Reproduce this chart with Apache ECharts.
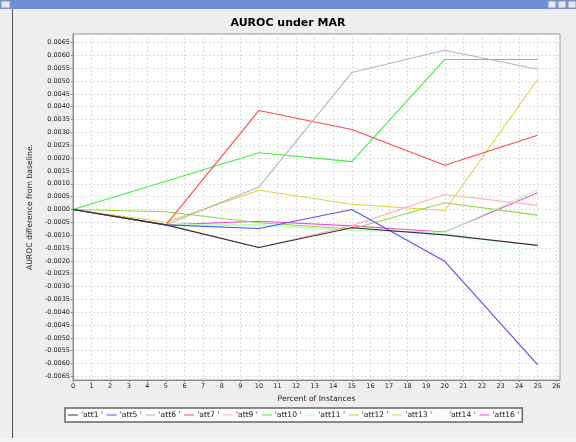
<!DOCTYPE html>
<html>
<head>
<meta charset="utf-8">
<script src="https://cdn.jsdelivr.net/npm/echarts@6/dist/echarts.min.js"></script>
<style>
  html, body { margin: 0; padding: 0; background: #eeeeee; }
  #chart { width: 576px; height: 442px; }
</style>
</head>
<body>
<div id="chart"></div>
<script>
// percent of instances with missing values
const xValues = [0, 5, 10, 15, 20, 25]

const seriesNames = ["'att1 '", "'att5 '", "'att6 '", "'att7 '", "'att9 '", "'att10 '",
  "'att11 '", "'att12 '", "'att13 '", "'att14 '", "'att16 '"]

const att1 = [0, -0.0006, -0.00148, -0.00071, -0.00099, -0.0014]
const att5 = [0, -0.0006, -0.00074, 0.0, -0.00202, -0.00605]
const att6 = [0, -0.0006, 0.00087, 0.00533, 0.0062, 0.00546]
const att7 = [0, -0.0006, 0.00385, 0.00311, 0.00172, 0.00289]
const att9 = [0, -0.0006, -0.00148, -0.00063, 0.00058, 0.00016]
const att10 = [0, 0.0011, 0.00221, 0.00186, 0.00584, 0.00584]
const att11 = [0, -0.0006, -0.0006, -0.0008, -0.0009, 0.00078]
const att12 = [0, -0.00009, -0.00052, -0.00076, 0.00026, -0.00022]
const att13 = [0, -0.0005, 0.00075, 0.0002, -0.00004, 0.00507]
const att14 = [0, -0.0006, -0.00062, -0.00082, -0.0009, -0.00186]
const att16 = [0, -0.0006, -0.00046, -0.00064, -0.00088, 0.00065]

const seriesData = [att1, att5, att6, att7, att9, att10, att11, att12, att13, att14, att16]
const seriesColors = ['#333333', '#5050ff', '#b5b5b5', '#ff4848', '#ffb0b0', '#40ee40',
  '#b0ffb0', '#90d840', '#e2d040', '#ccffff', '#ff48d8']

const xTicks = [0, 1, 2, 3, 4, 5, 6, 7, 8, 9, 10, 11, 12, 13, 14, 15, 16, 17, 18, 19, 20,
  21, 22, 23, 24, 25, 26]
const yTicks = [-0.0065, -0.006, -0.0055, -0.005, -0.0045, -0.004, -0.0035, -0.003, -0.0025,
  -0.002, -0.0015, -0.001, -0.0005, 0, 0.0005, 0.001, 0.0015, 0.002, 0.0025, 0.003, 0.0035,
  0.004, 0.0045, 0.005, 0.0055, 0.006, 0.0065]

const font = 'DejaVu Sans'

function buildSeries() {
  const list = []
  // first series on top, like the original renderer
  for (let i = seriesNames.length - 1; i >= 0; i--) {
    list.push({
      name: seriesNames[i],
      type: 'line',
      symbol: 'none',
      animation: false,
      color: seriesColors[i],
      lineStyle: { width: 1.1, color: seriesColors[i] },
      data: xValues.map((x, j) => [x, seriesData[i][j]])
    })
  }
  return list
}

const chart = echarts.init(document.getElementById('chart'))
chart.setOption({
  backgroundColor: '#eeeeee',
  animation: false,
  graphic: [
    // window title bar
    { type: 'rect', shape: { x: 0, y: 0, width: 576, height: 9 }, style: { fill: '#6c8ed2' }, silent: true },
    { type: 'rect', shape: { x: 1, y: 1, width: 9, height: 7 }, style: { fill: '#e8e8e8', stroke: '#8899bb' }, silent: true },
    { type: 'rect', shape: { x: 548, y: 1, width: 8, height: 7 }, style: { fill: '#e8e8e8', stroke: '#8899bb' }, silent: true },
    { type: 'rect', shape: { x: 558, y: 1, width: 8, height: 7 }, style: { fill: '#e8e8e8', stroke: '#8899bb' }, silent: true },
    { type: 'rect', shape: { x: 568, y: 1, width: 8, height: 7 }, style: { fill: '#e8e8e8', stroke: '#8899bb' }, silent: true },
    // panel frame
    { type: 'line', shape: { x1: 12.5, y1: 9, x2: 12.5, y2: 438 }, style: { stroke: '#555555', lineWidth: 1 }, silent: true },
    { type: 'rect', shape: { x: 0, y: 438, width: 576, height: 4 }, style: { fill: '#f4f4f4' }, silent: true }
  ],
  title: {
    text: 'AUROC under MAR',
    left: 'center',
    top: 13,
    textStyle: { fontFamily: font, fontSize: 11, fontWeight: 'bold', color: '#000000' }
  },
  legend: {
    data: seriesNames,
    left: 65,
    top: 408,
    orient: 'horizontal',
    icon: 'rect',
    itemWidth: 10,
    itemHeight: 1,
    itemGap: 3.7,
    padding: [3, 3],
    backgroundColor: '#ffffff',
    borderColor: '#666666',
    borderWidth: 1.5,
    borderRadius: 0,
    textStyle: { fontFamily: font, fontSize: 7.6, color: '#111111', padding: [0, 0, 0, -2] }
  },
  grid: {
    left: 73,
    right: 16,
    top: 34,
    bottom: 62,
    show: true,
    backgroundColor: '#ffffff',
    borderColor: '#999999',
    borderWidth: 1
  },
  xAxis: {
    type: 'value',
    min: 0,
    max: 26.2,
    name: 'Percent of Instances',
    nameLocation: 'middle',
    nameGap: 14,
    nameTextStyle: { fontFamily: font, fontSize: 7.7, color: '#222222' },
    axisLine: { show: true, onZero: false, lineStyle: { color: '#888888' } },
    axisTick: { show: true, length: 2, customValues: xTicks, lineStyle: { color: '#888888' } },
    axisLabel: {
      customValues: xTicks,
      fontFamily: font,
      fontSize: 6.5,
      color: '#222222',
      margin: 3
    },
    splitLine: { show: true, lineStyle: { color: '#dddddd', type: [2, 2], width: 1 } }
  },
  yAxis: {
    type: 'value',
    min: -0.00664,
    max: 0.00683,
    name: 'AUROC difference from baseline.',
    nameLocation: 'middle',
    nameGap: 37,
    nameTextStyle: { fontFamily: font, fontSize: 7.7, color: '#222222' },
    axisLine: { show: true, onZero: false, lineStyle: { color: '#888888' } },
    axisTick: { show: true, length: 2, customValues: yTicks, lineStyle: { color: '#888888' } },
    axisLabel: {
      customValues: yTicks,
      fontFamily: font,
      fontSize: 6.5,
      color: '#222222',
      margin: 3,
      formatter: v => v.toFixed(4)
    },
    splitLine: { show: true, lineStyle: { color: '#dddddd', type: [2, 2], width: 1 } }
  },
  series: buildSeries()
})
</script>
</body>
</html>
